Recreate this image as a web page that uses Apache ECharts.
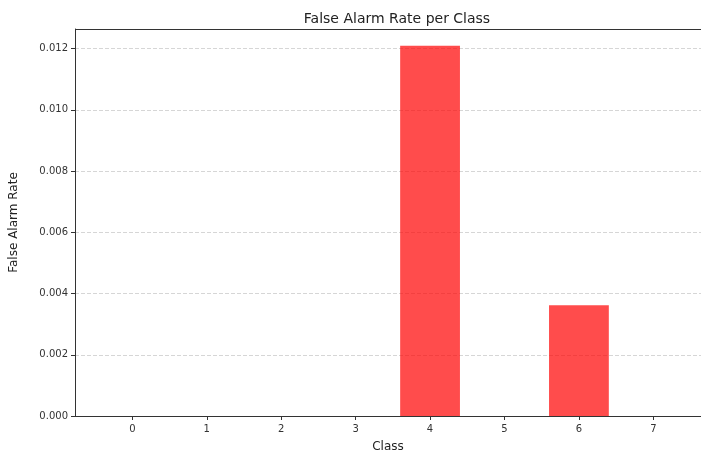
<!DOCTYPE html>
<html>
<head>
<meta charset="utf-8">
<script src="https://cdn.jsdelivr.net/npm/echarts@6/dist/echarts.min.js"></script>
<style>
  html, body { margin: 0; padding: 0; background: #fff; overflow: hidden; }
  #chart { width: 701px; height: 458px; }
</style>
</head>
<body>
<div id="chart"></div>
<script>
// False alarm rate for each class
const classes = [0, 1, 2, 3, 4, 5, 6, 7];
const falseAlarmRate = [0, 0, 0, 0, 0.01209, 0, 0.003617, 0];
const yTicks = [0, 0.002, 0.004, 0.006, 0.008, 0.010, 0.012];

const FONT = 'DejaVu Sans';
const X_MIN = -0.77, X_MAX = 7.64;
const Y_MAX = 0.01264;
const chart = echarts.init(document.getElementById('chart'), null, { renderer: 'canvas' });

const option = {
  backgroundColor: '#ffffff',
  animation: false,
  title: {
    text: 'False Alarm Rate per Class',
    left: 392, top: 7, textAlign: 'center',
    textStyle: { fontFamily: FONT, fontSize: 14, fontWeight: 'normal', color: '#222' }
  },
  grid: { left: 72.7, right: 0, top: 29, bottom: 40, containLabel: false },
  xAxis: {
    type: 'value',
    min: X_MIN, max: X_MAX,
    name: 'Class', nameLocation: 'middle', nameGap: 25,
    nameTextStyle: { fontFamily: FONT, fontSize: 12, color: '#222' },
    axisLine: { show: true, onZero: false, lineStyle: { color: '#333', width: 1 } },
    axisTick: { show: true, length: 4, customValues: classes, lineStyle: { color: '#333' } },
    axisLabel: {
      customValues: classes, fontFamily: FONT, fontSize: 10, color: '#333', margin: 8,
      formatter: v => String(Math.round(v))
    },
    splitLine: { show: false }
  },
  yAxis: {
    type: 'value',
    min: 0, max: Y_MAX,
    name: 'False Alarm Rate', nameLocation: 'middle', nameGap: 55, nameRotate: 90,
    nameTextStyle: { fontFamily: FONT, fontSize: 12, color: '#222' },
    axisLine: { show: true, onZero: false, lineStyle: { color: '#333', width: 1 } },
    axisTick: { show: true, length: 4, customValues: yTicks, lineStyle: { color: '#333' } },
    axisLabel: {
      customValues: yTicks, fontFamily: FONT, fontSize: 10, color: '#333', margin: 7,
      formatter: v => v.toFixed(3)
    },
    splitLine: { show: true, lineStyle: { color: '#cccccc', type: [4, 2], width: 0.8 } }
  },
  series: [{
    type: 'bar',
    data: classes.map((c, i) => [c, falseAlarmRate[i]]),
    barWidth: 59.8,
    itemStyle: { color: 'rgba(255, 0, 0, 0.7)' },
    silent: true
  }, {
    // top frame line of the plotting area
    type: 'line',
    data: [],
    markLine: {
      silent: true, symbol: 'none', label: { show: false },
      lineStyle: { color: '#333', type: 'solid', width: 1 },
      data: [[{ coord: [X_MIN, Y_MAX] }, { coord: [X_MAX, Y_MAX] }]]
    }
  }]
};
chart.setOption(option);
</script>
</body>
</html>
